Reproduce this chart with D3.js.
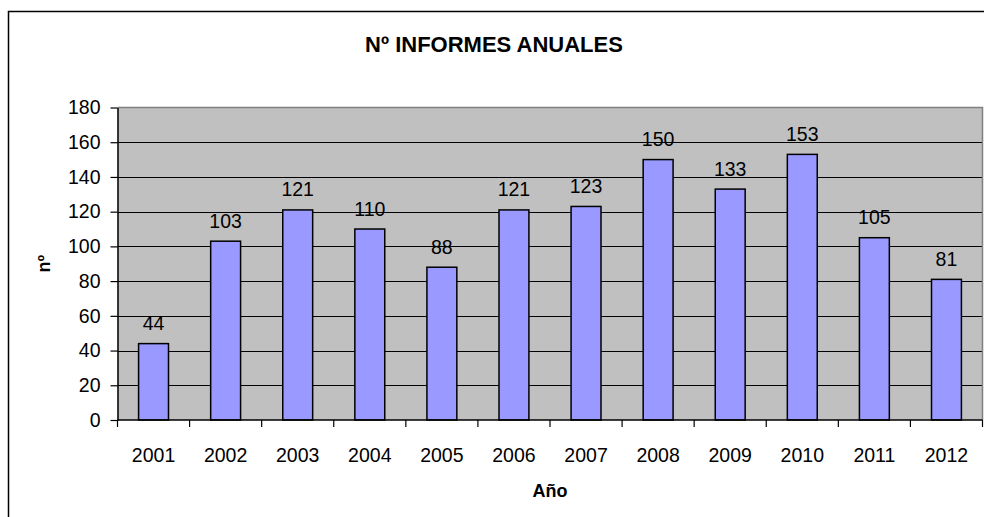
<!DOCTYPE html>
<html><head><meta charset="utf-8">
<script src="https://cdn.jsdelivr.net/npm/d3@7"></script>
<style>
html,body{margin:0;padding:0;background:#fff;}
svg{display:block;font-family:"Liberation Sans",Arial,sans-serif;}
</style></head>
<body>
<svg id="c" width="984" height="517"></svg>
<script>
const years = ["2001","2002","2003","2004","2005","2006","2007","2008","2009","2010","2011","2012"];
const informes = [44,103,121,110,88,121,123,150,133,153,105,81];
const yTicks = [0,20,40,60,80,100,120,140,160,180];
const titleText = "Nº INFORMES ANUALES";
const xTitle = "Año";
const yTitle = "nº";

const svg = d3.select("#c");
const L = 117.5, R = 982.5, T = 107.5, B = 420;

// outer border
svg.append("rect").attr("x",8.5).attr("y",11.5).attr("width",1000).attr("height",520)
  .attr("fill","#fff").attr("stroke","#000").attr("stroke-width",1.5);

const x = d3.scaleBand().domain(years).range([L,R]).padding(0);
const y = d3.scaleLinear().domain([0,180]).range([B,T]);

// plot background
svg.append("rect").attr("x",L).attr("y",T).attr("width",R-L).attr("height",B-T).attr("fill","#C0C0C0");

// gridlines
svg.append("g").selectAll("line").data(yTicks.filter(d=>d>0 && d<180)).join("line")
  .attr("x1",L).attr("x2",R).attr("y1",d=>Math.round(y(d))+0.5).attr("y2",d=>Math.round(y(d))+0.5)
  .attr("stroke","#000").attr("stroke-width",1);

// plot border top/right
svg.append("path").attr("d",`M${L},${T}H${R}V${B}`).attr("fill","none").attr("stroke","#808080").attr("stroke-width",1.5);

// bars
const bw = x.bandwidth()*0.415;
svg.append("g").selectAll("rect").data(informes).join("rect")
  .attr("x",(d,i)=>x(years[i])+x.bandwidth()/2-bw/2)
  .attr("y",d=>y(d))
  .attr("width",bw)
  .attr("height",d=>B-y(d))
  .attr("fill","#9999FF").attr("stroke","#000").attr("stroke-width",1.5);

// value labels
svg.append("g").selectAll("text").data(informes).join("text")
  .attr("x",(d,i)=>x(years[i])+x.bandwidth()/2)
  .attr("y",d=>y(d)-13.5)
  .attr("text-anchor","middle").attr("font-size","19.5px").attr("fill","#000")
  .text(d=>d);

// y axis
const yAxis = d3.axisLeft(y).tickValues(yTicks).tickSize(7).tickPadding(10).tickSizeOuter(0);
const gy = svg.append("g").attr("transform",`translate(${L},0)`).call(yAxis);
gy.select(".domain").attr("stroke","#000").attr("stroke-width",1.5);
gy.selectAll(".tick line").attr("stroke","#000").attr("stroke-width",1.2);
gy.selectAll(".tick text").attr("font-size","19.5px").attr("fill","#000").attr("font-family","Liberation Sans, Arial, sans-serif");

// x axis with ticks at category boundaries
const xb = d3.scaleLinear().domain([0,12]).range([L,R]);
const gx = svg.append("g").attr("transform",`translate(0,${B})`);
gx.append("line").attr("x1",L).attr("x2",R).attr("y1",0).attr("y2",0).attr("stroke","#000").attr("stroke-width",1.5);
gx.selectAll("line.t").data(d3.range(13)).join("line").attr("class","t")
  .attr("x1",d=>xb(d)).attr("x2",d=>xb(d)).attr("y1",0).attr("y2",7).attr("stroke","#000").attr("stroke-width",1.2);
gx.selectAll("text").data(years).join("text")
  .attr("x",d=>x(d)+x.bandwidth()/2).attr("y",41.5)
  .attr("text-anchor","middle").attr("font-size","19.5px").attr("fill","#000").text(d=>d);

// titles
svg.append("text").attr("x",494).attr("y",51.5).attr("text-anchor","middle")
  .attr("font-size","22px").attr("font-weight","bold").text(titleText);
svg.append("text").attr("x",(L+R)/2).attr("y",497).attr("text-anchor","middle")
  .attr("font-size","18px").attr("font-weight","bold").text(xTitle);
svg.append("text").attr("transform",`translate(50,${(T+B)/2}) rotate(-90)`).attr("text-anchor","middle")
  .attr("font-size","18px").attr("font-weight","bold").text(yTitle);
</script>
</body></html>
